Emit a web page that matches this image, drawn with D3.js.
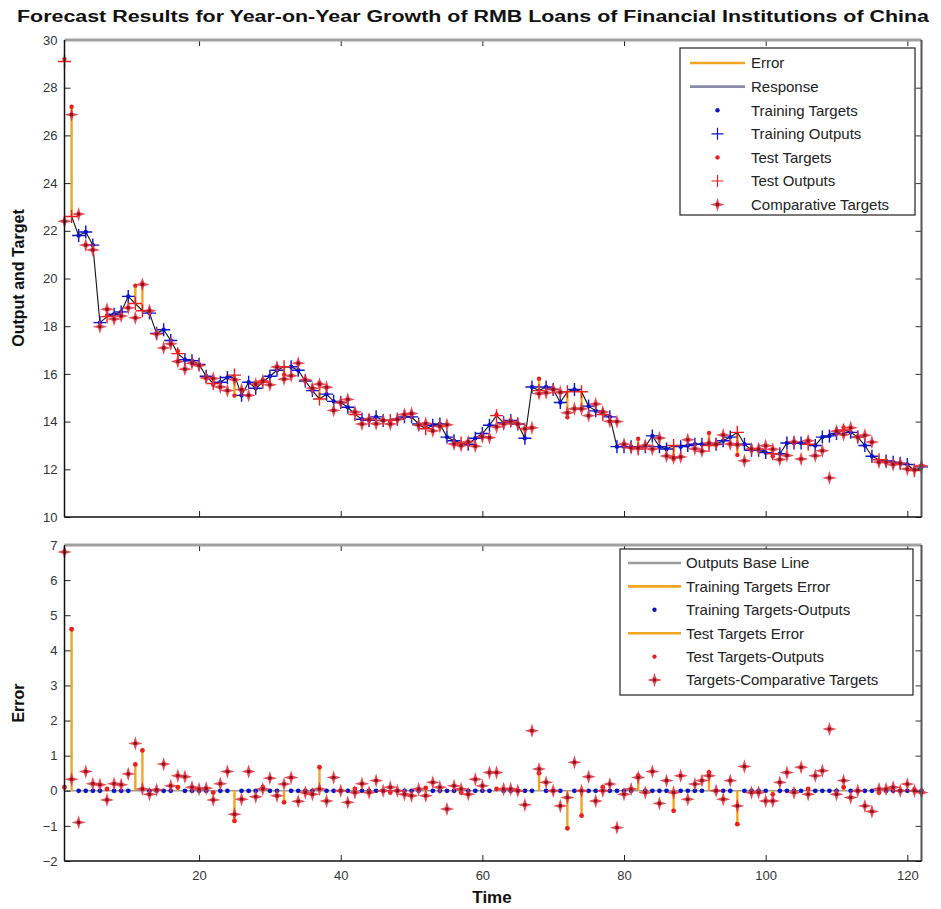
<!DOCTYPE html>
<html><head><meta charset="utf-8">
<script src="https://cdn.jsdelivr.net/npm/d3@7"></script>
<style>
body{margin:0;background:#fff}
text{font-family:"Liberation Sans",Arial,sans-serif}
</style>
</head><body>
<svg id="c" width="941" height="909"></svg>
<script>
// ---------------- DATA ----------------
const title = "Forecast Results for Year-on-Year Growth of RMB Loans of Financial Institutions of China";
// model outputs (Response line), time 1..122
const outputs = [29.1,22.6,21.8,21.95,21.4,18.15,18.4,18.5,18.6,19.25,
18.95,18.65,18.55,17.7,17.85,17.4,16.85,16.6,16.55,16.4,
15.9,15.6,15.65,15.85,15.95,15.1,15.65,15.4,15.65,15.9,
16.15,16.3,16.3,16.15,15.7,15.3,14.95,15.15,14.85,14.8,
14.6,14.3,14.1,14.05,14.2,14.05,14.05,14.1,14.2,14.2,
13.9,13.7,13.85,13.9,13.35,13.2,13.1,13.05,13.3,13.5,
13.85,14.25,13.95,14.05,13.9,13.3,15.45,15.3,15.45,15.35,
14.8,15.25,15.35,15.25,14.65,14.45,14.3,14.2,12.95,12.95,
12.95,12.85,12.95,13.4,12.95,12.85,13.0,12.95,13.0,13.05,
13.05,13.0,13.05,13.2,13.35,13.55,13.05,12.8,12.8,12.7,
12.65,12.65,13.1,13.1,13.1,13.05,13.0,13.35,13.4,13.5,
13.65,13.55,13.35,13.0,12.55,12.4,12.35,12.3,12.25,12.2,
11.95,12.1];
// test sample time indices and their errors (target - output)
const testTimes  = [1,2,7,11,12,17,22,25,29,32,37,42,47,52,57,62,68,72,74,77,82,87,92,96,101,106,111,116,121];
const testErrors = [0.1,4.6,0.05,0.75,1.15,0.1,-0.05,-0.86,0.1,-0.33,0.67,0.05,-0.05,0.08,-0.05,0.05,0.5,-1.07,-0.71,0.1,0.43,-0.57,0.52,-0.95,-0.1,0.05,0.1,-0.05,0.03];
// targets - comparative targets, time 1..122
const compDiffs = [6.8,0.33,-0.9,0.55,0.2,0.17,-0.26,0.2,0.17,0.48,
1.35,0.05,-0.1,0.03,0.76,0.14,0.43,0.4,0.1,0.05,
0.07,-0.26,0.2,0.55,-0.67,-0.24,0.55,-0.17,0.05,0.36,
-0.14,0.19,0.38,-0.3,-0.05,-0.1,0.05,-0.29,0.38,0,
-0.33,-0.05,0.2,-0.05,0.29,0,0.1,0,-0.1,-0.14,
0.05,-0.14,0.24,0.1,-0.52,0.14,0.05,-0.1,0.33,0.14,
0.52,0.52,0.05,0.05,0,-0.4,1.71,0.62,0.24,0,
-0.43,-0.19,0.81,0,0.4,-0.29,0,0.19,-1.05,-0.1,
0.05,0.38,-0.05,0.55,-0.36,0.29,-0.05,0.43,-0.24,0.19,
0.29,0.43,0,-0.24,0.29,-0.43,0.69,-0.05,-0.05,-0.29,
-0.29,0.24,0.52,-0.05,0.67,-0.1,0.43,0.57,1.76,-0.1,
0.29,-0.19,0,-0.43,-0.59,0.05,0.05,0.1,0,0.19,
0,-0.05];
const xTicks = [20,40,60,80,100,120];
const yTopTicks = [10,12,14,16,18,20,22,24,26,28,30];
const yBotTicks = [-2,-1,0,1,2,3,4,5,6,7];
const legendTop = ["Error","Response","Training Targets","Training Outputs","Test Targets","Test Outputs","Comparative Targets"];
const legendBot = ["Outputs Base Line","Training Targets Error","Training Targets-Outputs","Test Targets Error","Test Targets-Outputs","Targets-Comparative Targets"];

// ---------------- DERIVED ----------------
const times = outputs.map((d,i)=>i+1);
const errMap = new Map(testTimes.map((t,i)=>[t,testErrors[i]]));
const pts = times.map((t,i)=>{
  const isTest = errMap.has(t);
  const err = isTest ? errMap.get(t) : 0;
  const target = outputs[i] + err;
  return {t, out: outputs[i], target, err, isTest, comp: target - compDiffs[i], cd: compDiffs[i]};
});

// ---------------- STYLE ----------------
const RED="#ee1c1c", DRED="#8e1020", BLUE="#0a14c8", ORANGE="#f2a51f", STAR="#e5323c";

const svg = d3.select("#c");
const x = d3.scaleLinear([1,122],[64.5,921.5]);
const yT = d3.scaleLinear([10,30],[517,40]);
const yB = d3.scaleLinear([-2,7],[861,545]);

function plus(g,cx,cy,col,s=6.5,w=1.4){
  g.append("path").attr("d",`M${cx-s},${cy}H${cx+s}M${cx},${cy-s}V${cy+s}`)
   .attr("stroke",col).attr("stroke-width",w).attr("fill","none");
}
function dot(g,cx,cy,col,r=2.2){
  g.append("circle").attr("cx",cx).attr("cy",cy).attr("r",r).attr("fill",col);
}
function star(g,cx,cy){
  const R=7.2, r=2.4, p=[];
  for(let k=0;k<8;k++){
    const a=k*Math.PI/4, rr=(k%2===0)?R:r;
    p.push([cx+rr*Math.sin(a), cy-rr*Math.cos(a)]);
  }
  g.append("path").attr("d","M"+p.map(q=>q.join(",")).join("L")+"Z")
   .attr("fill",STAR).attr("fill-opacity",0.88);
  g.append("circle").attr("cx",cx).attr("cy",cy).attr("r",1.8).attr("fill",DRED);
}

function frame(yScale, yTicks, showXLabels){
  const [x0,x1]=x.range(), [yb,yt]=yScale.range();
  const g = svg.append("g");
  g.append("g").attr("transform",`translate(${x0},0)`)
   .call(d3.axisLeft(yScale).tickValues(yTicks).tickSize(-6).tickPadding(7).tickFormat(d3.format("d")))
   .call(a=>{a.select(".domain").remove();a.selectAll("line").attr("stroke","#222");
     a.selectAll("text").attr("font-size",13).attr("fill","#333");});
  g.append("g").attr("transform",`translate(${x1},0)`)
   .call(d3.axisRight(yScale).tickValues(yTicks).tickSize(-6).tickFormat(""))
   .call(a=>{a.select(".domain").remove();a.selectAll("line").attr("stroke","#333");});
  g.append("g").attr("transform",`translate(0,${yb})`)
   .call(d3.axisBottom(x).tickValues(xTicks).tickSize(-6).tickPadding(10).tickFormat(showXLabels?d3.format("d"):""))
   .call(a=>{a.select(".domain").remove();a.selectAll("line").attr("stroke","#222");
     a.selectAll("text").attr("font-size",13).attr("fill","#333");});
  g.append("g").attr("transform",`translate(0,${yt})`)
   .call(d3.axisTop(x).tickValues(xTicks).tickSize(-6).tickFormat(""))
   .call(a=>{a.select(".domain").remove();a.selectAll("line").attr("stroke","#222");});
  g.append("line").attr("x1",x0).attr("x2",x1).attr("y1",yt).attr("y2",yt).attr("stroke","#a0a0a0").attr("stroke-width",3);
  g.append("line").attr("x1",x1).attr("x2",x1).attr("y1",yt).attr("y2",yb).attr("stroke","#555").attr("stroke-width",2);
  g.append("line").attr("x1",x0).attr("x2",x1).attr("y1",yb).attr("y2",yb).attr("stroke","#111").attr("stroke-width",1.5);
  g.append("line").attr("x1",x0).attr("x2",x0).attr("y1",yt).attr("y2",yb).attr("stroke","#111").attr("stroke-width",1.5);
}

// ---------------- TOP PLOT ----------------
const gTop = svg.append("g");
pts.filter(d=>d.isTest).forEach(d=>{
  gTop.append("line").attr("x1",x(d.t)).attr("x2",x(d.t)).attr("y1",yT(d.out)).attr("y2",yT(d.target))
    .attr("stroke",ORANGE).attr("stroke-width",2.4);
});
gTop.append("path").datum(pts.slice(1))
  .attr("d",d3.line().x(d=>x(d.t)).y(d=>yT(d.out)))
  .attr("fill","none").attr("stroke","#111").attr("stroke-width",1.1);
pts.filter(d=>!d.isTest).forEach(d=>dot(gTop,x(d.t),yT(d.target),BLUE));
pts.filter(d=>!d.isTest).forEach(d=>plus(gTop,x(d.t),yT(d.out),BLUE));
pts.filter(d=>d.isTest).forEach(d=>dot(gTop,x(d.t),yT(d.target),RED));
pts.filter(d=>d.isTest).forEach(d=>plus(gTop,x(d.t),yT(d.out),RED));
pts.forEach(d=>star(gTop,x(d.t),yT(d.comp)));
frame(yT,yTopTicks,false);

// ---------------- BOTTOM PLOT ----------------
const gBot = svg.append("g");
gBot.append("line").attr("x1",x(1)).attr("x2",x(122)).attr("y1",yB(0)).attr("y2",yB(0))
  .attr("stroke","#9a9a9a").attr("stroke-width",1.5);
pts.filter(d=>d.isTest).forEach(d=>{
  gBot.append("line").attr("x1",x(d.t)).attr("x2",x(d.t)).attr("y1",yB(0)).attr("y2",yB(d.err))
    .attr("stroke",ORANGE).attr("stroke-width",2.4);
});
pts.filter(d=>!d.isTest).forEach(d=>dot(gBot,x(d.t),yB(d.err),BLUE,2.4));
pts.filter(d=>d.isTest).forEach(d=>dot(gBot,x(d.t),yB(d.err),RED,2.4));
pts.forEach(d=>star(gBot,x(d.t),yB(d.cd)));
frame(yB,yBotTicks,true);

// ---------------- LEGENDS ----------------
function legend(x0,y0,w,h,items,fs,lineX0,lineX1,textX,rowY,rowH,kinds){
  const g=svg.append("g");
  g.append("rect").attr("x",x0).attr("y",y0).attr("width",w).attr("height",h)
   .attr("fill","#fff").attr("stroke","#222").attr("stroke-width",1.2);
  items.forEach((txt,i)=>{
    const yy=rowY+i*rowH, k=kinds[i], mx=(lineX0+lineX1)/2;
    if(k.type==="line") g.append("line").attr("x1",lineX0).attr("x2",lineX1).attr("y1",yy).attr("y2",yy)
        .attr("stroke",k.col).attr("stroke-width",2.6);
    if(k.type==="dot") dot(g,mx,yy,k.col,2.2);
    if(k.type==="plus") plus(g,mx,yy,k.col,6,1.2);
    if(k.type==="star") star(g,mx,yy);
    g.append("text").attr("x",textX).attr("y",yy).attr("dy","0.36em").attr("font-size",fs)
     .attr("fill","#222").text(txt);
  });
}
legend(680,48,235,167,legendTop,15,690,745,751,63,23.6,[
  {type:"line",col:ORANGE},{type:"line",col:"#8a8aa6"},{type:"dot",col:BLUE},{type:"plus",col:BLUE},
  {type:"dot",col:RED},{type:"plus",col:RED},{type:"star"}]);
legend(620,549,293,146,legendBot,15,628,681,686,563,23.4,[
  {type:"line",col:"#9c9c9c"},{type:"line",col:ORANGE},{type:"dot",col:BLUE},{type:"line",col:ORANGE},
  {type:"dot",col:RED},{type:"star"}]);

// ---------------- TEXT ----------------
svg.append("text").attr("x",473).attr("y",22).attr("text-anchor","middle").attr("font-weight","bold")
  .attr("font-size",16).attr("textLength",912).attr("lengthAdjust","spacingAndGlyphs").attr("fill","#111").text(title);
svg.append("text").attr("transform","translate(24,278) rotate(-90)").attr("text-anchor","middle")
  .attr("font-weight","bold").attr("font-size",16).attr("fill","#111").text("Output and Target");
svg.append("text").attr("transform","translate(24,703) rotate(-90)").attr("text-anchor","middle")
  .attr("font-weight","bold").attr("font-size",16).attr("fill","#111").text("Error");
svg.append("text").attr("x",492).attr("y",903).attr("text-anchor","middle")
  .attr("font-weight","bold").attr("font-size",17).attr("fill","#111").text("Time");
</script>
</body></html>
